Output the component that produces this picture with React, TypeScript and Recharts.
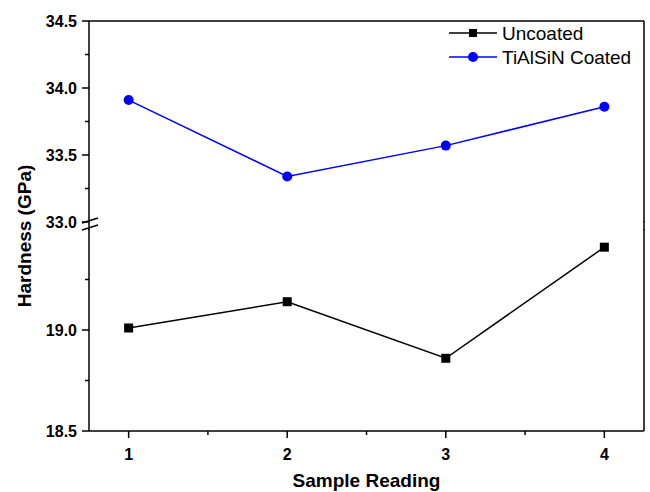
import React from "react";
import { LineChart, Line, XAxis, YAxis, Legend } from "recharts";

// sample readings and hardness values (GPa)
const readings = [1, 2, 3, 4];
const uncoated = [19.01, 19.14, 18.86, 19.41];
const coated = [33.91, 33.34, 33.57, 33.86];

const upperTicks = [33, 33.25, 33.5, 33.75, 34, 34.25, 34.5];
const lowerTicks = [18.5, 18.75, 19, 19.25];
const xTicks = [1, 1.5, 2, 2.5, 3, 3.5, 4];

const coatedData = readings.map((r, i) => ({ reading: r, coated: coated[i] }));
const uncoatedData = readings.map((r, i) => ({ reading: r, uncoated: uncoated[i] }));

const legendItems = [
  { name: "Uncoated", color: "#000000", shape: "square" },
  { name: "TiAlSiN Coated", color: "#0000ff", shape: "circle" },
];

const FONT = "'Liberation Sans', Arial, sans-serif";
const BLUE = "#0000ff";

const isMajor = (v: number) => Math.abs(v * 2 - Math.round(v * 2)) < 1e-6;

const YTick = (props: any) => {
  const { x, y, payload } = props;
  const v = payload.value;
  const major = isMajor(v);
  return (
    <g>
      <line x1={x} x2={x - (major ? 7 : 4)} y1={y} y2={y} stroke="#000" strokeWidth={1.5} />
      {major && (
        <text x={x - 12} y={y} dy="0.36em" textAnchor="end" fontFamily={FONT} fontWeight="bold" fontSize={16} fill="#000">
          {v.toFixed(1)}
        </text>
      )}
    </g>
  );
};

const XTick = (props: any) => {
  const { x, y, payload } = props;
  const v = payload.value;
  const major = Number.isInteger(v);
  return (
    <g>
      <line x1={x} x2={x} y1={y} y2={y + (major ? 7 : 4)} stroke="#000" strokeWidth={1.5} />
      {major && (
        <text x={x} y={y + 29} textAnchor="middle" fontFamily={FONT} fontWeight="bold" fontSize={16} fill="#000">
          {v}
        </text>
      )}
    </g>
  );
};

const SquareDot = (props: any) => {
  const { cx, cy, index } = props;
  return <rect key={index} x={cx - 4.5} y={cy - 4.5} width={9} height={9} fill="#000" />;
};

const LegendBox = () => (
  <svg width={200} height={50}>
    {legendItems.map((it, i) => {
      const cy = 12 + i * 24;
      return (
        <g key={it.name}>
          <line x1={4} x2={52} y1={cy} y2={cy} stroke={it.color} strokeWidth={1.5} />
          {it.shape === "square" ? (
            <rect x={24} y={cy - 4} width={8} height={8} fill={it.color} />
          ) : (
            <circle cx={28} cy={cy} r={5} fill={it.color} />
          )}
          <text x={57} y={cy} dy="0.36em" fontFamily={FONT} fontSize={19} fill="#000">
            {it.name}
          </text>
        </g>
      );
    })}
  </svg>
);

const axisLine = { stroke: "#000", strokeWidth: 1.5 };

export default function App() {
  return (
    <div style={{ position: "absolute", left: 0, top: 0, width: 650, height: 492, background: "#fff" }}>
      <div style={{ position: "absolute", left: 0, top: 0 }}>
        <LineChart width={650} height={234} data={coatedData} margin={{ top: 20, right: 5, bottom: 12, left: 0 }}>
          <XAxis xAxisId="b" dataKey="reading" type="number" domain={[0.75, 4.25]} hide />
          <XAxis xAxisId="t" orientation="top" dataKey="reading" type="number" domain={[0.75, 4.25]} height={1} tick={false} tickLine={false} axisLine={axisLine} />
          <YAxis yAxisId="l" type="number" domain={[33, 34.5]} ticks={upperTicks} interval={0} width={89} tickSize={0} tickMargin={0} tickLine={false} tick={<YTick />} axisLine={axisLine} />
          <YAxis yAxisId="r" orientation="right" type="number" domain={[33, 34.5]} width={1} tick={false} tickLine={false} axisLine={axisLine} />
          <Legend layout="vertical" align="center" verticalAlign="middle" content={<LegendBox />} wrapperStyle={{ top: 21, left: 445, width: 200, height: 50 }} />
          <Line xAxisId="b" yAxisId="l" dataKey="coated" name="TiAlSiN Coated" stroke={BLUE} strokeWidth={1.5} dot={{ r: 5, fill: BLUE, stroke: BLUE, strokeWidth: 0 }} isAnimationActive={false} />
        </LineChart>
      </div>
      <div style={{ position: "absolute", left: 0, top: 226 }}>
        <LineChart width={650} height={266} data={uncoatedData} margin={{ top: 3, right: 5, bottom: 0, left: 0 }}>
          <XAxis
            xAxisId="b"
            dataKey="reading"
            type="number"
            domain={[0.75, 4.25]}
            ticks={xTicks}
            interval={0}
            height={61}
            tickSize={0}
            tickMargin={0}
            tickLine={false}
            tick={<XTick />}
            axisLine={axisLine}
            label={(p: any) => {
              const vb = p.viewBox;
              return (
                <text x={vb.x + vb.width / 2} y={vb.y + 56} textAnchor="middle" fontFamily={FONT} fontWeight="bold" fontSize={19} fill="#000">
                  Sample Reading
                </text>
              );
            }}
          />
          <YAxis yAxisId="l" type="number" domain={[18.5, 19.5]} ticks={lowerTicks} interval={0} width={89} tickSize={0} tickMargin={0} tickLine={false} tick={<YTick />} axisLine={axisLine} />
          <YAxis yAxisId="r" orientation="right" type="number" domain={[18.5, 19.5]} width={1} tick={false} tickLine={false} axisLine={axisLine} />
          <Line xAxisId="b" yAxisId="l" dataKey="uncoated" name="Uncoated" stroke="#000" strokeWidth={1.5} dot={<SquareDot />} isAnimationActive={false} />
        </LineChart>
      </div>
      <svg width={650} height={492} style={{ position: "absolute", left: 0, top: 0, pointerEvents: "none" }}>
        <line x1={89} x2={89} y1={221} y2={230} stroke="#000" strokeWidth={1.5} />
        <line x1={644} x2={644} y1={221} y2={230} stroke="#000" strokeWidth={1.5} />
        <line x1={82} x2={98} y1={223} y2={218} stroke="#000" strokeWidth={1.5} />
        <line x1={82} x2={98} y1={230} y2={225} stroke="#000" strokeWidth={1.5} />
        <text x={31} y={236} transform="rotate(-90 31 236)" textAnchor="middle" fontFamily={FONT} fontWeight="bold" fontSize={19} fill="#000">
          Hardness (GPa)
        </text>
      </svg>
    </div>
  );
}
